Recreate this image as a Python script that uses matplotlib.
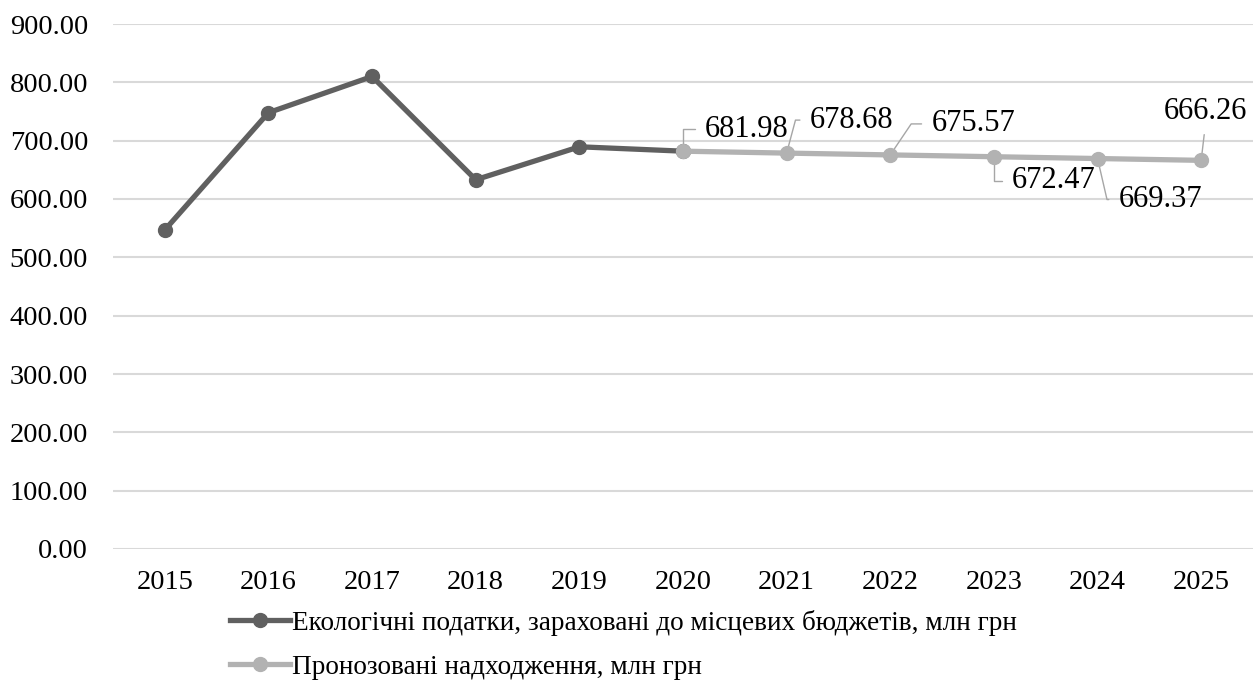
import numpy as np
import matplotlib.pyplot as plt

plt.rcParams['font.family'] = ['Liberation Serif', 'DejaVu Serif']

# Дані
years = ['2015', '2016', '2017', '2018', '2019', '2020', '2021', '2022', '2023', '2024', '2025']
fact_years = years[:6]
fact_values = [547.0, 748.0, 810.0, 633.0, 689.5, 681.98]
fc_years = years[5:]
fc_values = [681.98, 678.68, 675.57, 672.47, 669.37, 666.26]
label_fact = 'Екологічні податки, зараховані до місцевих бюджетів, млн грн'
label_fc = 'Пронозовані надходження, млн грн'

# зсуви підписів (пікселі) і кут лінії-виноски
label_offsets = [(22, 22, 90), (23, 33, 75), (41, 31, 56), (18, -24, 90), (21, -41, -77), None]

fig = plt.figure(figsize=(12.53, 6.81), dpi=100)
ax = fig.add_axes([113 / 1253, 1 - 549 / 681, 1 - 113 / 1253, (549 - 24) / 681])

x_all = np.arange(len(years))
x_fact = x_all[:6]
x_fc = x_all[5:]

ax.plot(x_fact, fact_values, color='#606060', lw=3.8, marker='o', ms=10, label=label_fact, zorder=3)
ax.plot(x_fc, fc_values, color='#b2b2b2', lw=3.8, marker='o', ms=10, label=label_fc, zorder=4)

px = 0.72  # пікселі -> пункти
for xi, v, off in zip(x_fc, fc_values, label_offsets):
    txt = f'{v:.2f}'
    if off is None:
        ax.annotate(txt, xy=(xi, v), xytext=(4 * px, 34 * px), textcoords='offset points',
                    ha='center', va='bottom', fontsize=22,
                    arrowprops=dict(arrowstyle='-', color='#a6a6a6', lw=1,
                                    relpos=(0.5, 0), shrinkA=4, shrinkB=5))
        continue
    dx, dy, ang = off
    ax.annotate(txt, xy=(xi, v), xytext=(dx * px, dy * px), textcoords='offset points',
                ha='left', va='center', fontsize=22,
                arrowprops=dict(arrowstyle='-', color='#a6a6a6', lw=1,
                                connectionstyle=f'angle,angleA=0,angleB={ang},rad=0',
                                relpos=(0, 0.5), shrinkA=5, shrinkB=5))

ax.set_xlim(-0.5, 10.5)
ax.set_ylim(0, 900)
ax.set_yticks(np.arange(0, 901, 100))
ax.set_yticklabels([f'{t:.2f}' for t in np.arange(0, 901, 100)])
ax.set_xticks(x_all)
ax.set_xticklabels(years)
ax.tick_params(axis='both', length=0, labelsize=20.5, colors='black')
ax.tick_params(axis='y', pad=18)
ax.tick_params(axis='x', pad=15)
ax.grid(axis='y', color='#d9d9d9', lw=1.5)
ax.set_axisbelow(True)
for s in ax.spines.values():
    s.set_visible(False)

fig.legend(loc='upper left', bbox_to_anchor=(230 / 1253, 1 - 610 / 681), frameon=False,
           fontsize=19.6, handlelength=2.2, handletextpad=0.07, borderpad=0,
           borderaxespad=0, labelspacing=0.68)

fig.savefig('out.png', dpi=100)
